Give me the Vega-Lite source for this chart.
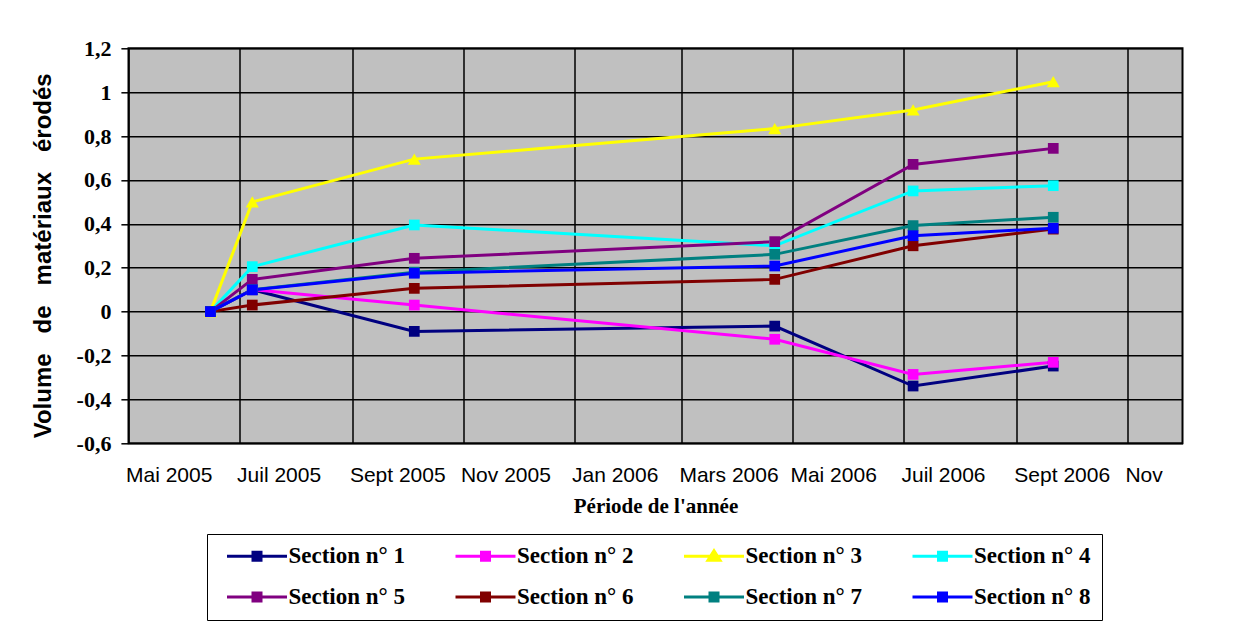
{
  "$schema": "https://vega.github.io/schema/vega-lite/v6.json",
  "width": 1054,
  "height": 395,
  "autosize": {"type": "none"},
  "padding": {"left": 128.5, "top": 48.3, "right": 58.5, "bottom": 191.7},
  "background": "white",
  "config": {"view": {"fill": "#C0C0C0", "stroke": "black", "strokeWidth": 2}},
  "data": {
    "values": [
      {"series": "Section n° 1", "date": "2005-06-15", "value": 0},
      {"series": "Section n° 1", "date": "2005-07-08", "value": 0.1},
      {"series": "Section n° 1", "date": "2005-10-05", "value": -0.09},
      {"series": "Section n° 1", "date": "2006-04-21", "value": -0.066},
      {"series": "Section n° 1", "date": "2006-07-06", "value": -0.339},
      {"series": "Section n° 1", "date": "2006-09-21", "value": -0.248},
      {"series": "Section n° 2", "date": "2005-06-15", "value": 0},
      {"series": "Section n° 2", "date": "2005-07-08", "value": 0.1},
      {"series": "Section n° 2", "date": "2005-10-05", "value": 0.03},
      {"series": "Section n° 2", "date": "2006-04-21", "value": -0.126},
      {"series": "Section n° 2", "date": "2006-07-06", "value": -0.286},
      {"series": "Section n° 2", "date": "2006-09-21", "value": -0.231},
      {"series": "Section n° 3", "date": "2005-06-15", "value": 0},
      {"series": "Section n° 3", "date": "2005-07-08", "value": 0.5},
      {"series": "Section n° 3", "date": "2005-10-05", "value": 0.695},
      {"series": "Section n° 3", "date": "2006-04-21", "value": 0.834},
      {"series": "Section n° 3", "date": "2006-07-06", "value": 0.919},
      {"series": "Section n° 3", "date": "2006-09-21", "value": 1.048},
      {"series": "Section n° 4", "date": "2005-06-15", "value": 0},
      {"series": "Section n° 4", "date": "2005-07-08", "value": 0.205},
      {"series": "Section n° 4", "date": "2005-10-05", "value": 0.395},
      {"series": "Section n° 4", "date": "2006-04-21", "value": 0.3},
      {"series": "Section n° 4", "date": "2006-07-06", "value": 0.55},
      {"series": "Section n° 4", "date": "2006-09-21", "value": 0.574},
      {"series": "Section n° 5", "date": "2005-06-15", "value": 0},
      {"series": "Section n° 5", "date": "2005-07-08", "value": 0.147},
      {"series": "Section n° 5", "date": "2005-10-05", "value": 0.243},
      {"series": "Section n° 5", "date": "2006-04-21", "value": 0.319},
      {"series": "Section n° 5", "date": "2006-07-06", "value": 0.671},
      {"series": "Section n° 5", "date": "2006-09-21", "value": 0.744},
      {"series": "Section n° 6", "date": "2005-06-15", "value": 0},
      {"series": "Section n° 6", "date": "2005-07-08", "value": 0.03},
      {"series": "Section n° 6", "date": "2005-10-05", "value": 0.106},
      {"series": "Section n° 6", "date": "2006-04-21", "value": 0.147},
      {"series": "Section n° 6", "date": "2006-07-06", "value": 0.3},
      {"series": "Section n° 6", "date": "2006-09-21", "value": 0.376},
      {"series": "Section n° 7", "date": "2005-06-15", "value": 0},
      {"series": "Section n° 7", "date": "2005-07-08", "value": 0.1},
      {"series": "Section n° 7", "date": "2005-10-05", "value": 0.18},
      {"series": "Section n° 7", "date": "2006-04-21", "value": 0.261},
      {"series": "Section n° 7", "date": "2006-07-06", "value": 0.392},
      {"series": "Section n° 7", "date": "2006-09-21", "value": 0.43},
      {"series": "Section n° 8", "date": "2005-06-15", "value": 0},
      {"series": "Section n° 8", "date": "2005-07-08", "value": 0.099},
      {"series": "Section n° 8", "date": "2005-10-05", "value": 0.175},
      {"series": "Section n° 8", "date": "2006-04-21", "value": 0.208},
      {"series": "Section n° 8", "date": "2006-07-06", "value": 0.346},
      {"series": "Section n° 8", "date": "2006-09-21", "value": 0.38}
    ]
  },
  "encoding": {
    "x": {
      "field": "date",
      "type": "temporal",
      "scale": {
        "type": "utc",
        "domain": [
          {"year": 2005, "month": 5, "date": 1, "utc": true},
          {"year": 2006, "month": 12, "date": 1, "utc": true}
        ]
      },
      "axis": {
        "values": [
          {"year": 2005, "month": 5, "date": 1, "utc": true},
          {"year": 2005, "month": 7, "date": 1, "utc": true},
          {"year": 2005, "month": 9, "date": 1, "utc": true},
          {"year": 2005, "month": 11, "date": 1, "utc": true},
          {"year": 2006, "month": 1, "date": 1, "utc": true},
          {"year": 2006, "month": 3, "date": 1, "utc": true},
          {"year": 2006, "month": 5, "date": 1, "utc": true},
          {"year": 2006, "month": 7, "date": 1, "utc": true},
          {"year": 2006, "month": 9, "date": 1, "utc": true},
          {"year": 2006, "month": 11, "date": 1, "utc": true}
        ],
        "labelExpr": "(utcyear(datum.value) == 2006 && utcmonth(datum.value) == 10) ? 'Nov' : ['Jan','Fév','Mars','Avr','Mai','Juin','Juil','Août','Sept','Oct','Nov','Déc'][utcmonth(datum.value)] + ' ' + utcyear(datum.value)",
        "labelAlign": "left",
        "labelOffset": -3,
        "labelFlush": false,
        "labelOverlap": false,
        "labelBound": false,
        "labelFont": "Liberation Sans",
        "labelFontSize": 21,
        "labelColor": "black",
        "labelPadding": 21,
        "ticks": false,
        "tickSize": 0,
        "domain": false,
        "grid": true,
        "gridColor": "black",
        "gridWidth": 1.5,
        "gridOpacity": 1,
        "title": "Période de l'année",
        "titleFont": "Liberation Serif",
        "titleFontSize": 21,
        "titleFontWeight": "bold",
        "titleColor": "black",
        "titlePadding": 10
      }
    },
    "y": {
      "field": "value",
      "type": "quantitative",
      "scale": {"domain": [-0.6, 1.2], "nice": false, "zero": false},
      "axis": {
        "values": [-0.6, -0.4, -0.2, 0, 0.2, 0.4, 0.6, 0.8, 1, 1.2],
        "labelExpr": "replace(replace(format(datum.value, '.1~f'), '.', ','), '\u2212', '-')",
        "labelFont": "Liberation Serif",
        "labelFontSize": 22,
        "labelFontWeight": "bold",
        "labelColor": "black",
        "labelPadding": 10,
        "tickSize": 7.6,
        "tickColor": "black",
        "tickWidth": 1.5,
        "domain": false,
        "grid": true,
        "gridColor": "black",
        "gridWidth": 1.5,
        "gridOpacity": 1,
        "title": "Volume\u00a0\u00a0 de\u00a0\u00a0 matériaux\u00a0\u00a0 érodés",
        "titleFont": "Liberation Sans",
        "titleFontSize": 24,
        "titleFontWeight": "bold",
        "titleColor": "black",
        "titlePadding": 21,
        "titleY": 207
      }
    }
  },
  "layer": [
    {
      "mark": {"type": "line", "strokeWidth": 3},
      "encoding": {
        "color": {
          "field": "series",
          "type": "nominal",
          "scale": {
            "domain": ["Section n° 1", "Section n° 2", "Section n° 3", "Section n° 4", "Section n° 5", "Section n° 6", "Section n° 7", "Section n° 8"],
            "range": ["#000080", "#FF00FF", "#FFFF00", "#00FFFF", "#800080", "#800000", "#008080", "#0000FF"]
          },
          "legend": {
            "orient": "none",
            "legendX": 78.5,
            "legendY": 485.7,
            "direction": "horizontal",
            "columns": 4,
            "title": null,
            "strokeColor": "black",
            "fillColor": "white",
            "padding": 10.5,
            "symbolSize": 400,
            "symbolStrokeWidth": 3,
            "symbolType": "M-0.2,0H5.8M2.4,-0.4H3.2V0.4H2.4Z",
            "labelFont": "Liberation Serif",
            "labelFontSize": 23,
            "labelFontWeight": "bold",
            "labelColor": "black",
            "labelOffset": 48,
            "columnPadding": 40.5,
            "rowPadding": 17,
            "encode": {
              "symbols": {
                "update": {
                  "fill": {"scale": "color", "field": "value"},
                  "stroke": {"scale": "color", "field": "value"},
                  "strokeWidth": {"value": 3},
                  "opacity": {"value": 1},
                  "shape": {"signal": "datum.value === 'Section n° 3' ? 'M-0.2,0H5.8M2.8,-0.55L3.4,0.4H2.2Z' : 'M-0.2,0H5.8M2.4,-0.4H3.2V0.4H2.4Z'"}
                }
              }
            }
          }
        }
      }
    },
    {
      "transform": [{"filter": "datum.series === 'Section n° 3'"}],
      "mark": {"type": "point", "filled": true, "opacity": 1, "size": 170, "shape": "triangle-up"},
      "encoding": {
        "color": {"field": "series", "type": "nominal", "legend": null}
      }
    },
    {
      "transform": [{"filter": "datum.series !== 'Section n° 3'"}],
      "mark": {"type": "point", "filled": true, "opacity": 1, "size": 115, "shape": "square"},
      "encoding": {
        "color": {"field": "series", "type": "nominal", "legend": null}
      }
    }
  ]
}
